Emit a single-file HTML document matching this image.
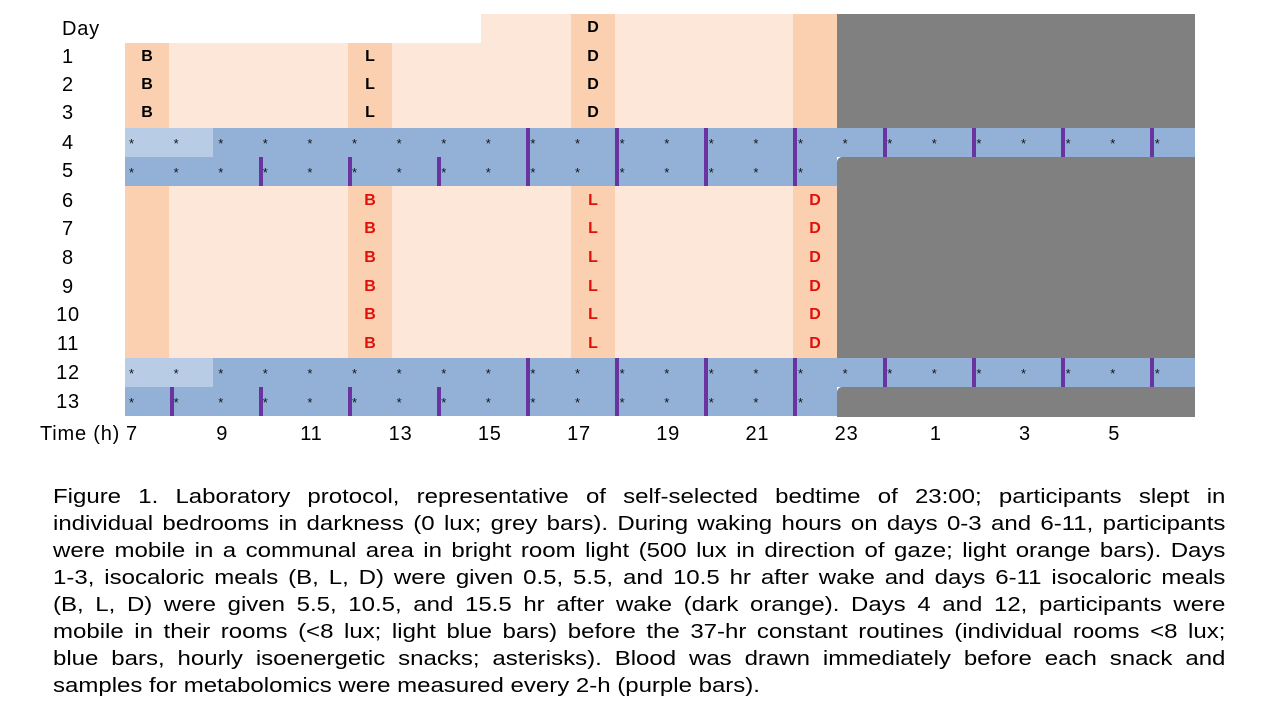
<!DOCTYPE html>
<html><head><meta charset="utf-8"><style>
body{margin:0;width:1280px;height:720px;background:#fff;position:relative;overflow:hidden;font-family:"Liberation Sans",Arial,sans-serif}
.r{position:absolute}
.lab{position:absolute;font-size:20px;color:#000;line-height:20px;letter-spacing:0.8px}
.st{position:absolute;font-size:13px;line-height:13px;color:#111}
.m{position:absolute;font-size:16px;font-weight:bold;width:44px;text-align:center;line-height:16px}
.cap{position:absolute;left:53px;width:977px;font-size:20px;line-height:20px;text-align:justify;text-align-last:justify;color:#000;white-space:nowrap;transform:scaleX(1.2);transform-origin:0 0}
</style></head><body>
<div id="g"></div>
<div class="cap" style="top:487px">Figure 1. Laboratory protocol, representative of self-selected bedtime of 23:00; participants slept in</div>
<div class="cap" style="top:514px">individual bedrooms in darkness (0 lux; grey bars). During waking hours on days 0-3 and 6-11, participants</div>
<div class="cap" style="top:541px">were mobile in a communal area in bright room light (500 lux in direction of gaze; light orange bars). Days</div>
<div class="cap" style="top:568px">1-3, isocaloric meals (B, L, D) were given 0.5, 5.5, and 10.5 hr after wake and days 6-11 isocaloric meals</div>
<div class="cap" style="top:595px">(B, L, D) were given 5.5, 10.5, and 15.5 hr after wake (dark orange). Days 4 and 12, participants were</div>
<div class="cap" style="top:622px">mobile in their rooms (&lt;8 lux; light blue bars) before the 37-hr constant routines (individual rooms &lt;8 lux;</div>
<div class="cap" style="top:649px">blue bars, hourly isoenergetic snacks; asterisks). Blood was drawn immediately before each snack and</div>
<div class="cap" style="top:676px;text-align-last:left">samples for metabolomics were measured every 2-h (purple bars).</div>
<script>
var g=document.getElementById('g'),h='';
function R(x,y,w,hh,c,ex){h+='<div class="r" style="left:'+x+'px;top:'+y+'px;width:'+w+'px;height:'+hh+'px;background:'+c+';'+(ex||'')+'"></div>';}
var LO='#fde7d8',DO='#fbd0b0',BL='#93b1d7',LB='#b9cce5',GR='#808080',PU='#6a34a0';
R(481,14,356,30,LO);R(125,43,712,85,LO);R(125,186,712,172,LO);
R(125,43,44,85,DO);R(348,43,44,85,DO);R(571,14,44,114,DO);R(793,14,44,114,DO);
R(125,186,44,172,DO);R(348,186,44,172,DO);R(571,186,44,172,DO);R(793,186,44,172,DO);
R(837,14,358,114,GR);R(837,157,358,201,GR,'border-top-left-radius:5px');R(837,387,358,30,GR,'border-top-left-radius:5px');
[[128,157],[358,387]].forEach(function(p){
 R(125,p[0],1070,29,BL);R(125,p[0],88,29,LB);R(125,p[0]+29,712,29,BL);
});
[[128,186],[358,416]].forEach(function(p,i){
 var t=p[0],m=t+29,b=p[1];
 [526,615,704,793].forEach(function(x){R(x,t,4,b-t,PU);});
 [883,972,1061,1150].forEach(function(x){R(x,t,4,29,PU);});
 var rb=i==0?[259,348,437]:[170,259,348,437];
 rb.forEach(function(x){R(x,m,4,29,PU);});
});
[128,358].forEach(function(t){
 for(var k=0;k<24;k++){var x=129+k*44.6;h+='<div class="st" style="left:'+x+'px;top:'+(t+9)+'px">*</div>';}
 for(var k=0;k<16;k++){var x=129+k*44.6;h+='<div class="st" style="left:'+x+'px;top:'+(t+38)+'px">*</div>';}
});
function M(x,y,t,c){h+='<div class="m" style="left:'+x+'px;top:'+(y-8)+'px;color:'+c+'">'+t+'</div>';}
M(571,28,'D','#000');
[57,85,113].forEach(function(y){M(125,y,'B','#000');M(348,y,'L','#000');M(571,y,'D','#000');});
[201,229,258,287,315,344].forEach(function(y){M(348,y,'B','#e0100c');M(571,y,'L','#e0100c');M(793,y,'D','#e0100c');});
var days=[['Day',29],['1',57],['2',85],['3',113],['4',143],['5',171],['6',201],['7',229],['8',258],['9',287],['10',315],['11',344],['12',373],['13',402]];
days.forEach(function(d){h+='<div class="lab" style="left:'+(d[0]=='Day'?62:40)+'px;width:'+(d[0]=='Day'?48:56)+'px;text-align:'+(d[0]=='Day'?'left':'center')+';top:'+(d[1]-10)+'px">'+d[0]+'</div>';});
h+='<div class="lab" style="left:40px;top:424px">Time (h)</div>';
var tl=['7','9','11','13','15','17','19','21','23','1','3','5'];
tl.forEach(function(t,i){var x=(i==0?132:125+i*89.2+8);h+='<div class="lab" style="left:'+(x-20)+'px;width:40px;text-align:center;top:424px">'+t+'</div>';});
g.innerHTML=h;
</script>
</body></html>
